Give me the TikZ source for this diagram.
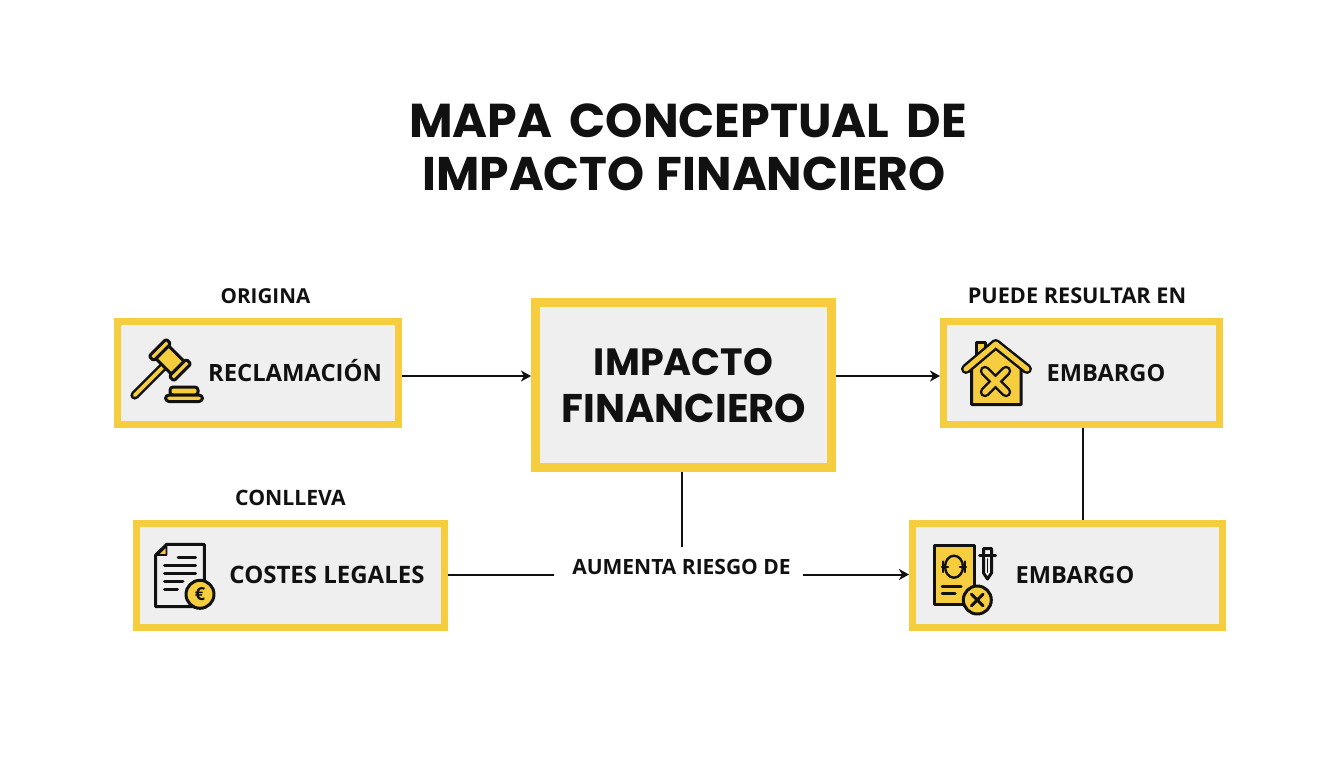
\documentclass[tikz,border=0pt]{standalone}
\usepackage{fontspec}
\setmainfont{Open Sans}
\newfontfamily\titlefont{Poppins}
\usetikzlibrary{arrows.meta,calc}
\definecolor{ygold}{HTML}{F5CD3F}
\definecolor{bfill}{HTML}{EFEFEF}
\definecolor{ink}{HTML}{111111}
\tikzset{
  box/.style={draw=ygold,fill=bfill,line width=7pt,minimum width=#1,inner sep=0pt},
  txt/.style={anchor=base,text=ink,inner sep=0pt,font=\fontsize{#1}{#1}\selectfont\bfseries},
  big/.style={anchor=base,text=ink,inner sep=0pt,font=\titlefont\fontsize{#1}{#1}\selectfont\bfseries},
  conn/.style={draw=ink,line width=2pt},
  arr/.style={conn,-{Stealth[length=10pt,width=11pt,inset=3pt]}},
  ik/.style={draw=ink,line width=3pt,line join=round,line cap=round},
  iky/.style={ik,fill=ygold}
}
\begin{document}
\begin{tikzpicture}[x=1pt,y=-1pt]
\useasboundingbox[fill=white] (0,0) rectangle (1344,768);
% title
\node[big=47.5] (t1) at (688,137) {MAPA\hspace{7pt} CONCEPTUAL\hspace{7pt} DE};
\node[big=47.2] (t2) at (684,190) {IMPACTO\hspace{2pt} FINANCIERO};
% boxes
\node[box=281pt,minimum height=103pt] (rec) at (258,373) {};
\node[box=276pt,minimum height=103pt] (emb) at (1081.5,373) {};
\node[box=308pt,minimum height=104pt] (cos) at (290,575.5) {};
\node[box=310pt,minimum height=104pt] (emc) at (1067.5,575.5) {};
\node[box=296pt,minimum height=165pt,line width=9pt] (imp) at (683.5,385) {};
% box texts
\node[txt=23.8] (trec) at (295,381) {RECLAMACIÓN};
\node[txt=23.6] (temb) at (1106,381) {EMBARGO};
\node[txt=24] (tcos) at (327,583) {COSTES LEGALES};
\node[txt=23.6] (temc) at (1075,583) {EMBARGO};
\node[big=38] (tia) at (683.5,375.5) {IMPACTO};
\node[big=40] (tib) at (684,422.5) {FINANCIERO};
% relation labels
\node[txt=20.6] (lorig) at (265.5,303) {ORIGINA};
\node[txt=21.7] (lpue) at (1077,303) {PUEDE RESULTAR EN};
\node[txt=21.2] (lcon) at (290.5,505) {CONLLEVA};
\node[txt=21] (laum) at (681.5,574.5) {AUMENTA RIESGO DE};
% free ends
\coordinate (vend) at (681.5,547);
\coordinate (lstart) at (554,574.5);
\coordinate (lend) at (803,574.5);
% connectors
\draw[arr] ([yshift=-3pt]rec.east) -- ([yshift=-3pt]rec.east -| imp.west);
\draw[arr] ([yshift=-3pt]emb.west -| imp.east) -- ([yshift=-3pt]emb.west);
\draw[conn] (imp.south -| vend) -- (vend);
\draw[conn] (cos.east |- lstart) -- (lstart);
\draw[arr] (lend) -- (lend -| emc.west);
\draw[conn] ([xshift=1.5pt]emb.south) -- ([xshift=1.5pt]emb.south |- emc.north);
% gavel icon
\begin{scope}[shift={(170,360)},rotate=-45]
  \draw[ink,line cap=round,line width=8.5pt] (0,6) -- (0,50);
  \draw[draw=ygold,line width=3.8pt,line cap=round] (0,6) -- (0,50);
  \draw[iky] (-11,-9) rectangle (11,9);
  \draw[iky,rounded corners=1.5pt] (-17.5,-12) rectangle (-11,12);
  \draw[iky,rounded corners=1.5pt] (11,-12) rectangle (17.5,12);
\end{scope}
\draw[iky,rounded corners=3pt] (170,387) rectangle (198,395);
\draw[iky,rounded corners=3.5pt] (165.5,395) rectangle (202.5,401.5);
% house icon
\draw[iky] (976,360) -- (976,342.5) -- (985.5,342.5) -- (985.5,360) -- cycle;
\draw[iky] (971.5,365) -- (995.7,345) -- (1021,365) -- (1021,404.5) -- (971.5,404.5) -- cycle;
\draw[draw=ink,line width=10pt,line join=round,line cap=round] (966,369) -- (995.7,344) -- (1027,369);
\draw[draw=ygold,line width=5pt,line join=round,line cap=round] (966,369) -- (995.7,344) -- (1027,369);
\draw[draw=ink,line width=10.5pt,line cap=round] (985,371) -- (1006,392) (1006,371) -- (985,392);
\draw[draw=ygold,line width=5.5pt,line cap=round] (985,371) -- (1006,392) (1006,371) -- (985,392);
% document with euro icon
\draw[ik] (155.7,555) -- (166.7,544.3) -- (204.3,544.3) -- (204.3,606.7) -- (155.7,606.7) -- cycle;
\draw[draw=ink,fill=ygold,line width=1.6pt,line join=round] (157.5,555) -- (166.5,546) -- (166.5,555) -- cycle;
\draw[ik] (178,557.7) -- (195.7,557.7) (164.5,565.7) -- (195.7,565.7) (164.5,573.3) -- (195.7,573.3) (164.5,581) -- (183,581) (164.5,589) -- (177.5,589);
\node[circle,iky,minimum size=28pt,inner sep=0pt,text=ink,font=\fontsize{18}{18}\selectfont\bfseries] (euro) at (200,594.3) {€};
% document with seal icon
\draw[iky] (934.3,545.7) rectangle (974,604);
\draw[ik,line width=2.4pt] (954,566.7) ellipse [x radius=9pt,y radius=11pt];
\draw[ik,line width=2.4pt] (942,566.7) -- (948,566.7) (960,566.7) -- (966,566.7) (943,561.5) -- (943,572) (965,561.5) -- (965,572);
\draw[ik] (942,586) -- (961,586) (942,593.5) -- (955,593.5);
\draw[ik] (983.5,548.5) -- (991.5,548.5) -- (991.5,573) -- (987.5,579) -- (983.5,573) -- cycle;
\draw[ik] (979.5,555.7) -- (995.5,555.7);
\draw[ik,line width=1.8pt] (987.5,559) -- (987.5,572);
\node[circle,iky,minimum size=28pt,inner sep=0pt] (sealx) at (977.3,600) {};
\draw[ik] (971.5,594.2) -- (983.1,605.8) (983.1,594.2) -- (971.5,605.8);
\end{tikzpicture}
\end{document}
